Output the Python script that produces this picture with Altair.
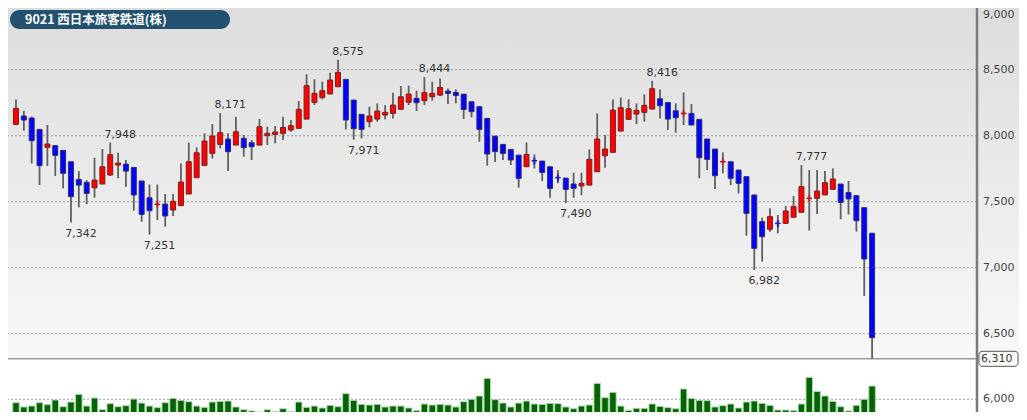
import altair as alt
import pandas as pd

# ---------------- data ----------------
opens = [8086, 8149, 8134, 8048, 7912, 7924, 7889, 7803, 7669, 7647,
         7606, 7634, 7702, 7778, 7785, 7760, 7657, 7530, 7478, 7482,
         7437, 7470, 7558, 7682, 7775, 7866, 7934, 7975, 7929, 7980,
         7947, 7929, 8000, 8010, 8018, 8043, 8056, 8126, 8253, 8290,
         8316, 8371, 8427, 8270, 8162, 8106, 8126, 8157, 8169, 8200,
         8253, 8283, 8265, 8295, 8308, 8338, 8328, 8315, 8257, 8220,
         8131, 7997, 7934, 7896, 7853, 7765, 7812, 7808, 7765, 7684,
         7679, 7634, 7619, 7626, 7727, 7848, 7874, 8035, 8124, 8164,
         8177, 8202, 8280, 8252, 8189, 8167, 8169, 8124, 7975, 7899,
         7801, 7803, 7740, 7690, 7551, 7349, 7291, 7338, 7336, 7382,
         7420, 7524, 7526, 7551, 7594, 7634, 7569, 7546, 7455, 7261]
highs = [8275, 8189, 8144, 8048, 8081, 7929, 7889, 7803, 7732, 7664,
         7833, 7899, 7948, 7871, 7816, 7760, 7657, 7631, 7630, 7558,
         7558, 7790, 7947, 7912, 8018, 8088, 8171, 8018, 8144, 8005,
         7967, 8126, 8068, 8073, 8144, 8119, 8263, 8465, 8427, 8409,
         8477, 8575, 8427, 8270, 8162, 8220, 8245, 8232, 8326, 8376,
         8379, 8341, 8444, 8409, 8434, 8358, 8351, 8315, 8257, 8220,
         8131, 7997, 7934, 7896, 7853, 7949, 7858, 7808, 7765, 7740,
         7679, 7720, 7720, 7896, 8169, 8005, 8275, 8288, 8275, 8245,
         8313, 8416, 8351, 8252, 8245, 8328, 8240, 8124, 7975, 7899,
         7874, 7803, 7740, 7690, 7551, 7379, 7450, 7399, 7468, 7543,
         7777, 7740, 7740, 7733, 7753, 7634, 7657, 7546, 7455, 7261]
lows = [8080, 8038, 7790, 7626, 7770, 7695, 7601, 7342, 7457, 7482,
        7530, 7634, 7697, 7677, 7614, 7432, 7349, 7251, 7360, 7311,
        7392, 7470, 7558, 7682, 7775, 7828, 7904, 7732, 7929, 7841,
        7816, 7929, 7929, 7942, 7967, 8030, 8056, 8126, 8232, 8275,
        8316, 8371, 8048, 7971, 7980, 8063, 8106, 8124, 8131, 8200,
        8232, 8187, 8232, 8265, 8300, 8240, 8245, 8126, 8139, 7954,
        7773, 7800, 7816, 7778, 7606, 7765, 7752, 7656, 7530, 7639,
        7490, 7530, 7550, 7626, 7727, 7757, 7874, 8035, 8124, 8088,
        8106, 8202, 8131, 8043, 8023, 8081, 8081, 7677, 7740, 7596,
        7715, 7626, 7563, 7243, 6982, 7046, 7273, 7260, 7336, 7382,
        7420, 7281, 7407, 7551, 7594, 7367, 7404, 7273, 6786, 6310]
closes = [8207, 8119, 7962, 7773, 7937, 7851, 7715, 7538, 7626, 7563,
          7664, 7765, 7856, 7793, 7732, 7551, 7404, 7432, 7482, 7392,
          7503, 7649, 7803, 7871, 7960, 7998, 8023, 7879, 8030, 7909,
          7917, 8068, 8018, 8028, 8063, 8076, 8200, 8379, 8321, 8341,
          8422, 8480, 8119, 8053, 8048, 8149, 8187, 8177, 8232, 8295,
          8316, 8250, 8326, 8321, 8366, 8321, 8305, 8199, 8182, 8048,
          7861, 7879, 7866, 7816, 7677, 7858, 7808, 7722, 7601, 7680,
          7593, 7601, 7639, 7821, 7975, 7899, 8194, 8212, 8204, 8192,
          8230, 8356, 8227, 8126, 8136, 8171, 8081, 7833, 7821, 7697,
          7805, 7677, 7639, 7412, 7147, 7235, 7387, 7334, 7430, 7463,
          7614, 7528, 7581, 7644, 7672, 7495, 7521, 7356, 7066, 6470]
volumes = [5500, 4870, 5010, 5500, 5210, 5900, 4910, 5600, 6730, 5010,
           6190, 4470, 5360, 4910, 5060, 6040, 5450, 5010, 4770, 5500,
           6140, 5850, 5650, 5010, 4820, 5600, 5700, 5750, 4870, 4470,
           4280, 4130, 4470, 4180, 4620, 4180, 5600, 4820, 5010, 4720,
           5110, 4910, 6830, 5850, 5260, 5160, 5260, 4870, 5010, 5010,
           4720, 4320, 5310, 5160, 5260, 5160, 4870, 5650, 6000, 6490,
           9090, 5950, 5450, 4870, 5450, 5750, 5310, 5260, 5410, 5360,
           4870, 4620, 5010, 5160, 8350, 6240, 7030, 5010, 4370, 4670,
           4670, 5310, 4960, 4770, 4620, 7520, 6140, 5850, 5800, 4870,
           5060, 5310, 4720, 5600, 5750, 5410, 5110, 4420, 4420, 4320,
           5310, 9240, 7170, 6490, 5700, 4910, 4280, 5110, 6000, 7960]

ann_above_idx = [12, 26, 41, 52, 81, 100]
ann_above_val = [7948, 8171, 8575, 8444, 8416, 7777]
ann_below_idx = [7, 17, 43, 70, 94]
ann_below_val = [7342, 7251, 7971, 7490, 6982]

price_ticks = [6500, 7000, 7500, 8000, 8500, 9000]
volume_ticks = [6000]
marker_price = [6310]
title_text = ["9021 西日本旅客鉄道(株)"]

# ---------------- tables ----------------
df = pd.DataFrame({"i": list(range(len(opens))), "open": opens, "high": highs,
                   "low": lows, "close": closes, "volume": volumes})
above = pd.DataFrame({"i": ann_above_idx, "v": ann_above_val})
below = pd.DataFrame({"i": ann_below_idx, "v": ann_below_val})
pticks = pd.DataFrame({"v": price_ticks})
vticks = pd.DataFrame({"v": volume_ticks})
marker = pd.DataFrame({"v": marker_price})
title_df = pd.DataFrame({"t": title_text})

W, H = 969, 404
FONT = "DejaVu Sans"
PMAX = 8967.5

xs = alt.Scale(domain=[-0.38, 121.72], nice=False, zero=False)
ps = alt.Scale(domain=[6310, PMAX], range=[350.8, 0], nice=False, zero=False)
vs = alt.Scale(domain=[0, 9000], range=[432, 370.95], nice=False, zero=False)

X = alt.X("i:Q", scale=xs, axis=None)
PY = alt.Y("v:Q", scale=ps, axis=None)

grad = alt.Gradient(gradient="linear", x1=0, x2=0, y1=0, y2=1,
                    stops=[alt.GradientStop(color="#dddddd", offset=0),
                           alt.GradientStop(color="#f8f8f8", offset=1)])

bg = alt.Chart(title_df).mark_rect(fill=grad).encode(
    x=alt.value(0), x2=alt.value(1011), y=alt.value(0), y2=alt.value(350.8))

pgrid = alt.Chart(pticks).mark_rule(strokeDash=[2, 2], color="#a0a0a0", strokeWidth=1).encode(y=PY)

plabel = alt.Chart(pticks).transform_filter(f"datum.v <= {PMAX}").mark_text(
    align="left", baseline="middle", font=FONT, fontSize=11, color="#444444"
).encode(x=alt.value(975), y=PY, text=alt.Text("v:Q", format=","))

plabel_top = alt.Chart(pticks).transform_filter(f"datum.v > {PMAX}").mark_text(
    align="left", baseline="middle", dy=11, font=FONT, fontSize=11, color="#444444"
).encode(x=alt.value(975), y=PY, text=alt.Text("v:Q", format=","))

vgrid = alt.Chart(vticks).mark_rule(strokeDash=[2, 2], color="#a0a0a0", strokeWidth=1).encode(
    y=alt.Y("v:Q", scale=vs, axis=None))
vlabel = alt.Chart(vticks).mark_text(align="left", baseline="middle", font=FONT,
                                      fontSize=11, color="#444444").encode(
    x=alt.value(975), y=alt.Y("v:Q", scale=vs, axis=None), text=alt.Text("v:Q", format=","))

vol = alt.Chart(df).mark_bar(size=6.5, color="#006400", stroke="#b5d5b5", strokeWidth=1).encode(
    x=X, y=alt.Y("volume:Q", scale=vs, axis=None))

sep = alt.Chart(marker).mark_rule(color="#9a9a9a", strokeWidth=1.5).encode(y=PY)

wick = alt.Chart(df).mark_rule(color="#606060", strokeWidth=1.8).encode(
    x=X, y=alt.Y("low:Q", scale=ps, axis=None), y2="high:Q")

dir_color = alt.Color("dir:N", scale=alt.Scale(domain=["up", "down"], range=["#ff0000", "#0000ff"]), legend=None)
dir_stroke = alt.Stroke("dir:N", scale=alt.Scale(domain=["up", "down"], range=["#7a2020", "#303070"]), legend=None)

body = alt.Chart(df).transform_calculate(
    dir="datum.close >= datum.open ? 'up' : 'down'"
).mark_bar(size=5, strokeWidth=1).encode(
    x=X, y=alt.Y("open:Q", scale=ps, axis=None), y2="close:Q",
    color=dir_color, stroke=dir_stroke)

doji = alt.Chart(df).transform_filter(
    "abs(datum.close - datum.open) < 10"
).transform_calculate(
    dir="datum.close >= datum.open ? 'up' : 'down'"
).mark_tick(size=7, thickness=2).encode(
    x=X, y=alt.Y("close:Q", scale=ps, axis=None),
    color=alt.Color("dir:N", scale=alt.Scale(domain=["up", "down"], range=["#8b0000", "#000080"]), legend=None))

lab_up = alt.Chart(above).mark_text(dx=10, dy=-8, baseline="middle", font=FONT,
                                     fontSize=11, color="#333333").encode(
    x=X, y=PY, text=alt.Text("v:Q", format=","))
lab_dn = alt.Chart(below).mark_text(dx=10, dy=11, baseline="middle", font=FONT,
                                     fontSize=11, color="#333333").encode(
    x=X, y=PY, text=alt.Text("v:Q", format=","))

axis_line = alt.Chart(title_df).mark_rule(color="#7a7a7a", strokeWidth=2.5).encode(
    x=alt.value(969), y=alt.value(0), y2=alt.value(404))

box = alt.Chart(marker).mark_rect(fill="white", stroke="#555555", strokeWidth=1,
                                  cornerRadius=3, yOffset=-7.5, y2Offset=7.5).encode(
    x=alt.value(971), x2=alt.value(1010), y=PY, y2="v:Q")
box_text = alt.Chart(marker).mark_text(align="left", baseline="middle", font=FONT,
                                       fontSize=11, color="#333333").encode(
    x=alt.value(973), y=PY, text=alt.Text("v:Q", format=","))

badge = alt.Chart(title_df).mark_rect(fill="#22506f", cornerRadius=9.5).encode(
    x=alt.value(2), x2=alt.value(222), y=alt.value(2), y2=alt.value(21))
badge_text = alt.Chart(title_df).mark_text(align="left", baseline="middle",
                                           font="Noto Sans CJK JP", fontSize=12.5,
                                           fontWeight="bold", color="white").encode(
    x=alt.value(17), y=alt.value(12), text="t:N")

chart = alt.layer(
    bg, pgrid, plabel, plabel_top, vgrid, vlabel, vol, sep, wick, body, doji,
    lab_up, lab_dn, axis_line, box, box_text, badge, badge_text
).resolve_scale(y="independent").properties(
    width=W, height=H,
    autosize=alt.AutoSizeParams(type="none"),
    padding={"left": 0, "top": 0, "right": 42, "bottom": 0},
    background="white",
).configure_view(stroke=None)

chart.save("out.html", embed_options={"renderer": "svg", "actions": False})
